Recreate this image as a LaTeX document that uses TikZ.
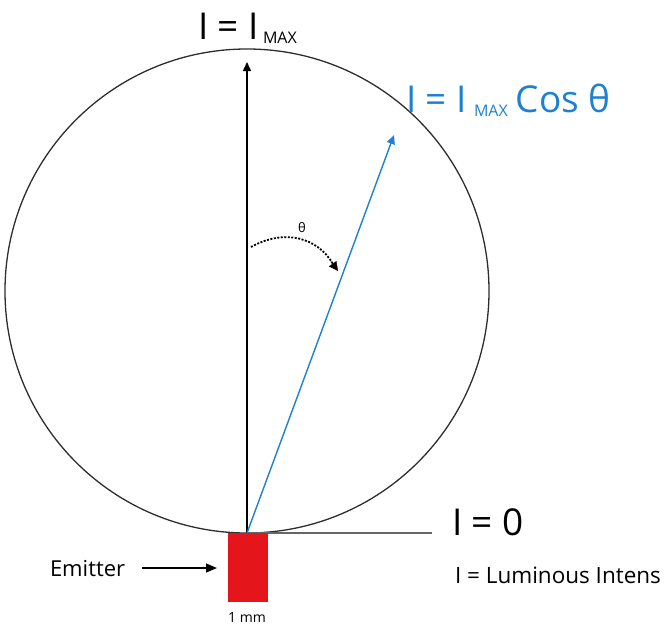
\documentclass[tikz,border=0pt]{standalone}
\usepackage{fontspec}
\setmainfont{Open Sans}
\usetikzlibrary{arrows.meta}
\definecolor{lblue}{RGB}{30,128,208}
\definecolor{lred}{RGB}{228,22,28}
\definecolor{dgray}{RGB}{45,45,45}
\newcommand{\fs}[1]{\fontsize{#1}{#1}\selectfont}
\tikzset{
  every node/.style={inner sep=0pt, outer sep=0pt},
  big/.style={font=\fs{37}, anchor=base west},
  tip/.style={-{Triangle[length=9pt,width=8pt]}},
}
\begin{document}
\begin{tikzpicture}[x=1pt,y=-1pt]
\useasboundingbox (0,0) rectangle (671,627);
\clip (0,0) rectangle (671,627);
% geometry
\coordinate (base) at (247,533);
\coordinate (c) at (247,291);
\coordinate (top) at (247,62);
\coordinate (bl) at (394,135);
\coordinate (hend) at (432,533);
\draw[dgray, line width=1.3pt] (c) circle[radius=242];
\draw[gray!80!black, line width=1.2pt] (base) -- (hend);
\draw[black, line width=1.4pt, tip] (base) -- (top);
\draw[lblue, line width=1.4pt, tip] (base) -- (bl);
% dotted angle arc
\coordinate (a1) at (251,247);
\coordinate (a2) at (338,271);
\draw[black, line width=1.8pt, dash pattern=on 2pt off 1.5pt] (a1) .. controls (285,228) and (318,238) .. (333,264);
\draw[black, -{Triangle[length=9pt,width=9pt]}] (330,260) -- (a2);
\node[font=\fs{13}, anchor=base] (th) at (302,232) {θ};
% labels
\node[big] (imax) at (198,39) {I = I\kern4pt\raisebox{-4pt}{\fs{16}MAX}};
\node[big, text=lblue] (icos) at (406,112) {I = I\kern7pt\raisebox{-4pt}{\fs{16}MAX}\kern8pt Cos θ};
\node[big] (izero) at (452,535) {I = 0};
\node[font=\fs{22.5}, anchor=base west] (lum) at (455,583) {I = Luminous Intens};
% emitter
\node[draw=none, fill=lred, minimum width=40pt, minimum height=69pt, anchor=north west] (em) at (228,533) {};
\node[font=\fs{22}, anchor=base west] (emt) at (50,576) {Emitter};
\draw[black, line width=1.2pt, -{Triangle[length=11pt,width=9pt]}] (142,568) -- (217,568);
\node[font=\fs{14}, anchor=base] (mm) at (247,622) {1 mm};
\end{tikzpicture}
\end{document}
